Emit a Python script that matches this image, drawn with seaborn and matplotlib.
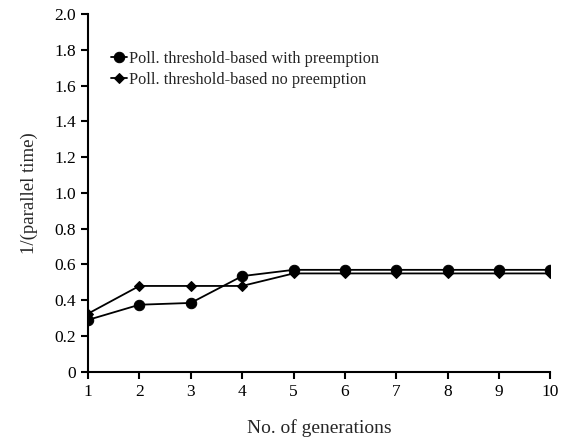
import numpy as np
import pandas as pd
import seaborn as sns
import matplotlib.pyplot as plt

generations = [1, 2, 3, 4, 5, 6, 7, 8, 9, 10]
with_preemption = [0.29, 0.375, 0.385, 0.535, 0.57, 0.57, 0.57, 0.57, 0.57, 0.57]
no_preemption = [0.325, 0.48, 0.48, 0.48, 0.55, 0.55, 0.55, 0.55, 0.55, 0.55]
labels = ["Poll. threshold-based with preemption", "Poll. threshold-based no preemption"]

df = pd.DataFrame({
    "gen": generations * 2,
    "val": with_preemption + no_preemption,
    "series": [labels[0]] * len(generations) + [labels[1]] * len(generations),
})

sns.set_style("ticks")
plt.rcParams["font.family"] = ["Liberation Serif", "DejaVu Serif"]

fig = plt.figure(figsize=(5.64, 4.4), dpi=100)
ax = fig.add_axes([0.156, 0.155, 0.82, 0.813])

sns.lineplot(data=df, x="gen", y="val", hue="series", style="series",
             markers={labels[0]: "o", labels[1]: "D"}, dashes=False,
             palette={labels[0]: "black", labels[1]: "black"},
             linewidth=1.3, ax=ax, legend=True)

# marker sizes and solid black edges
def fix_marker(line):
    line.set_markeredgecolor("black")
    line.set_markerfacecolor("black")
    if line.get_marker() == "D":
        line.set_markersize(5.5)
    elif line.get_marker() == "o":
        line.set_markersize(7.5)

for line in ax.get_lines():
    fix_marker(line)

ax.set_xlim(1, 10)
ax.set_ylim(0, 2.0)
ax.set_xticks(range(1, 11))
ax.set_yticks(np.arange(0, 2.01, 0.2))
ax.set_yticklabels(["0"] + [f"{v:.1f}" for v in np.arange(0.2, 2.01, 0.2)])
ax.tick_params(labelsize=12.5, width=1.5, length=5, color="black", labelcolor="black")
for s in ["left", "bottom"]:
    ax.spines[s].set_linewidth(1.5)
    ax.spines[s].set_color("black")
sns.despine(ax=ax)

ax.set_xlabel("No. of generations", fontsize=14, labelpad=14)
ax.set_ylabel("1/(parallel time)", fontsize=13.5, labelpad=12)

h, l = ax.get_legend_handles_labels()
leg = ax.legend(h, l, loc="upper left", bbox_to_anchor=(0.035, 0.915), frameon=False,
                fontsize=11.7, handlelength=1.0, handletextpad=0.15, labelspacing=0.3,
                borderaxespad=0)
for hl in leg.legend_handles:
    fix_marker(hl)

fig.savefig("out.png", dpi=100)
